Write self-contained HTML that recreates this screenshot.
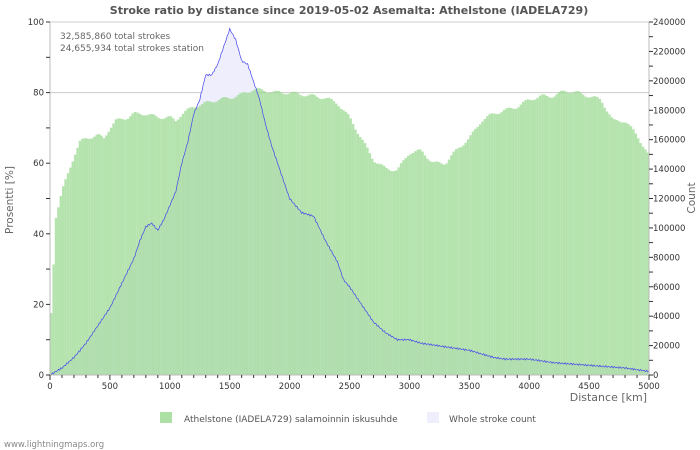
<!DOCTYPE html>
<html><head><meta charset="utf-8"><style>body{margin:0;background:#fff}svg{display:block;font-family:"DejaVu Sans","Liberation Sans",sans-serif}</style></head><body>
<svg id="s" width="700" height="450" xmlns="http://www.w3.org/2000/svg">
<rect width="700" height="450" fill="#fff"/>
<g id="plot"></g>
<text x="349" y="14" text-anchor="middle" font-size="11" font-weight="bold" fill="#555">Stroke ratio by distance since 2019-05-02 Asemalta: Athelstone (IADELA729)</text>
<text x="60" y="39" font-size="9" fill="#666">32,585,860 total strokes</text>
<text x="60" y="51" font-size="9" fill="#666">24,655,934 total strokes station</text>
<text transform="translate(13,200) rotate(-90)" text-anchor="middle" font-size="10.5" fill="#666">Prosentti   [%]</text>
<text transform="translate(695,198) rotate(-90)" text-anchor="middle" font-size="10.5" fill="#666">Count</text>
<text x="647" y="401" text-anchor="end" font-size="11" fill="#666">Distance   [km]</text>
<rect x="160" y="412" width="12" height="11" fill="#ace0a4"/>
<text x="184" y="422" font-size="9" fill="#555">Athelstone (IADELA729) salamoinnin iskusuhde</text>
<rect x="427" y="412" width="12" height="11" fill="#eeeefc"/>
<text x="449" y="422" font-size="9" fill="#555">Whole stroke count</text>
<text x="4" y="447" font-size="8.5" fill="#888">www.lightningmaps.org</text>
</svg>
<script>
var NS="http://www.w3.org/2000/svg",g=document.getElementById("plot");
function el(t,a){var e=document.createElementNS(NS,t);for(var k in a)e.setAttribute(k,a[k]);g.appendChild(e);return e;}
var X0=50,X1=649,Y0=375,Y1=22;
function px(k){return X0+(X1-X0)*k/5000}function py(p){return Y0-(Y0-Y1)*p/100}
function interp(pts,k){for(var i=1;i<pts.length;i++){if(k<=pts[i][0]){var a=pts[i-1],b=pts[i];return a[1]+(b[1]-a[1])*(k-a[0])/(b[0]-a[0]);}}return pts[pts.length-1][1];}
var G=[[0,10],[20,25],[50,45],[100,52],[150,57],[200,62],[250,66],[300,67],[400,68],[450,67],[500,70],[550,72],[650,73],[700,74],[800,74],[900,73],[1000,73],[1050,72],[1100,74],[1200,76],[1300,77],[1400,78],[1500,78.5],[1600,79.5],[1700,81],[1800,80.5],[1900,80],[2000,80],[2100,79.5],[2200,79],[2300,78.5],[2400,77],[2500,73],[2600,67],[2700,61],[2800,58.5],[2900,58],[3000,63],[3100,63.5],[3200,60],[3300,60],[3400,64],[3500,67],[3600,72],[3700,74],[3800,75],[3900,76],[4000,78],[4100,79],[4200,79],[4300,80.5],[4400,80],[4500,79],[4600,78],[4700,72],[4800,72],[4900,68],[5000,62]];
var B=[[0,0],[100,2],[200,5],[300,9],[400,14],[500,19],[600,26],[700,33],[750,38],[800,42],[850,43],[900,41],[950,44],[1000,48],[1050,52],[1100,60],[1150,66],[1200,74],[1250,78],[1300,85],[1350,85],[1400,88],[1450,93],[1500,98],[1550,95],[1600,89],[1650,88],[1700,83],[1750,78],[1800,71],[1850,65],[1900,60],[1950,55],[2000,50],[2100,46],[2200,45],[2300,38],[2400,32],[2450,27],[2500,25],[2600,20],[2700,15],[2800,12],[2900,10],[3000,10],[3100,9],[3200,8.5],[3300,8],[3400,7.5],[3500,7],[3600,6],[3700,5],[3800,4.5],[4000,4.5],[4100,4],[4200,3.5],[4400,3],[4600,2.5],[4800,2],[5000,1]];
el("line",{x1:X0,x2:X1,y1:py(80),y2:py(80),stroke:"#ccc","stroke-width":1});
el("line",{x1:X0,x2:X1,y1:py(100),y2:py(100),stroke:"#ccc","stroke-width":1});
var d="M"+X0+","+Y0,dl="";
for(var k=0;k<=5000;k+=10){var v=interp(B,k)+(Math.sin(k*0.37)*0.25);if(k==0)v=0;var s=px(k).toFixed(1)+","+py(v).toFixed(1);d+=" L"+s;dl+=(dl?" L":"M")+s;}
d+=" L"+X1+","+Y0+"Z";
el("path",{d:d,fill:"#eeeefc"});
for(var k=0;k<5000;k+=20){var v=interp(G,k+10)+Math.sin(k*0.9)*0.5;var x=px(k);el("rect",{x:x.toFixed(2),y:py(v).toFixed(1),width:2.4,height:(Y0-py(v)).toFixed(1),fill:"rgba(150,215,140,0.7)"});}
el("path",{d:dl,fill:"none",stroke:"#4444ee","stroke-width":0.7});
el("line",{x1:X0,x2:X0,y1:Y1,y2:Y0,stroke:"#bbb"});el("line",{x1:X1,x2:X1,y1:Y1,y2:Y0,stroke:"#bbb"});el("line",{x1:X0,x2:X1,y1:Y0,y2:Y0,stroke:"#bbb"});
function txt(x,y,s,a){var e=el("text",{x:x,y:y,"font-size":8.5,fill:"#333","text-anchor":a});e.textContent=s;}
for(var p=0;p<=100;p+=10){var y=py(p);el("line",{x1:X0-4,x2:X0,y1:y,y2:y,stroke:"#333"});if(p%20==0)txt(X0-6,y+3,p,"end");}
for(var c=0;c<=240000;c+=10000){var y=Y0-(Y0-Y1)*c/240000;el("line",{x1:X1,x2:X1+4,y1:y,y2:y,stroke:"#333"});if(c%20000==0)txt(X1+4,y+3,c,"start");}
for(var k=0;k<=5000;k+=100){var x=px(k);el("line",{x1:x,x2:x,y1:Y0,y2:Y0+(k%500?3:5),stroke:"#333"});if(k%500==0)txt(x,Y0+14,k,"middle");}
</script>
</body></html>
